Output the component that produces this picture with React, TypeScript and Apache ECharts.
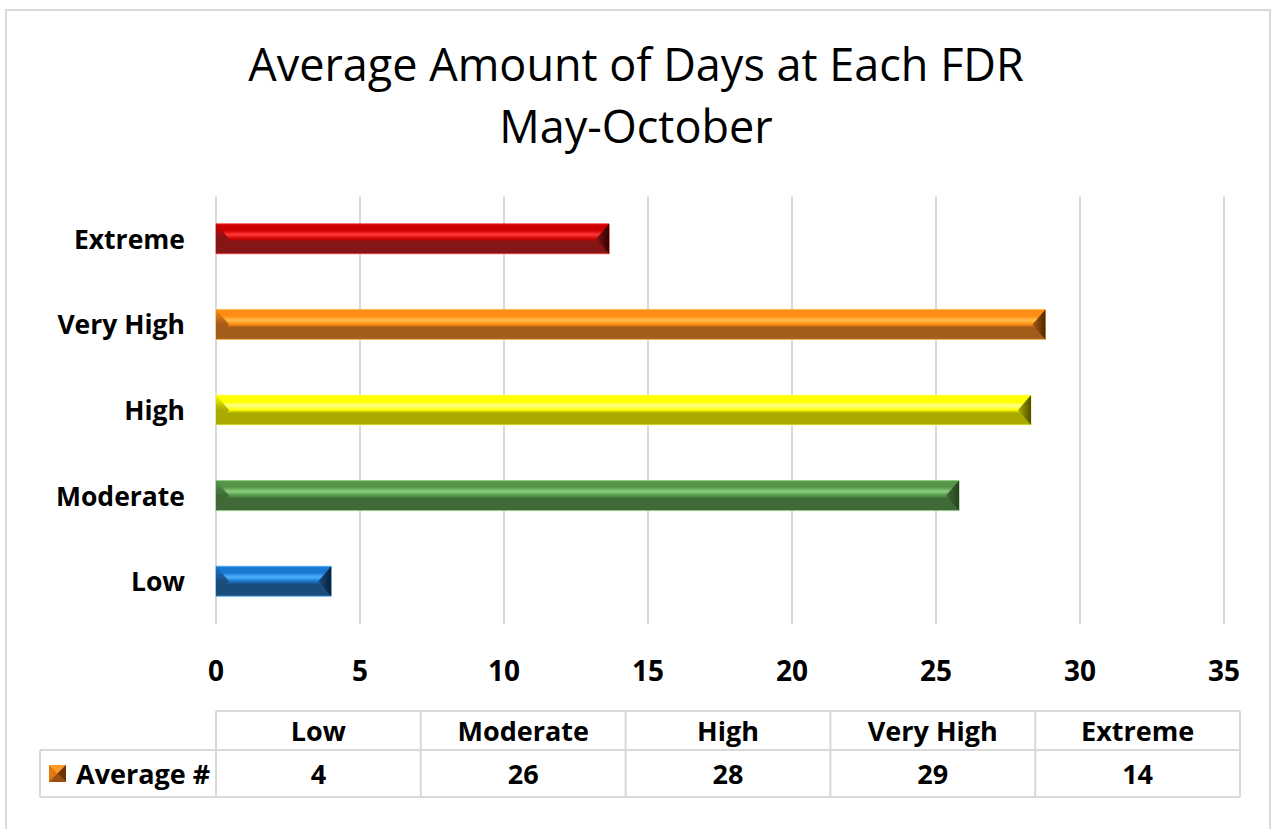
import React, { useEffect, useRef } from "react";
import * as echarts from "echarts";

const categories = ["Low", "Moderate", "High", "Very High", "Extreme"];
const averageDays = [4, 25.8, 28.3, 28.8, 13.65];
const seriesName = "Average #";
const titleLines = ["Average Amount of Days at Each FDR", "May-October"];
const axisMin = 0;
const axisMax = 35;
const axisInterval = 5;

const palette = [
  { base: "#1a78d0", light: "#4db2ff", dark: "#1b4d7c", end: "#06203a" },
  { base: "#54954a", light: "#8acd7b", dark: "#3f6936", end: "#27441f" },
  { base: "#ffff00", light: "#ffff8a", dark: "#a9a900", end: "#4e4e00" },
  { base: "#ff8c14", light: "#ffbd4a", dark: "#a45c1b", end: "#4e2600" },
  { base: "#cc0000", light: "#ff3838", dark: "#851616", end: "#330000" },
];

const FONT = "'Open Sans', sans-serif";

export default function App() {
  const ref = useRef<HTMLDivElement>(null);

  useEffect(() => {
    if (!ref.current) return;
    const chart = echarts.init(ref.current, undefined, { renderer: "svg" });

    const gridLeft = 216;
    const gridTop = 196;
    const gridRight = 48;
    const gridBottom = 205;

    // data table geometry
    const tLeft = 216;
    const tRight = 1240;
    const labelLeft = 40;
    const r0 = 711;
    const r1 = 750;
    const r2 = 797;
    const colW = (tRight - tLeft) / categories.length;
    const lineStyle = { stroke: "#d9d9d9", lineWidth: 2 };
    const tableFont = `bold 27px ${FONT}`;

    const tableEls: any[] = [];
    tableEls.push({ type: "line", shape: { x1: tLeft, y1: r0, x2: tRight, y2: r0 }, style: lineStyle });
    tableEls.push({ type: "line", shape: { x1: labelLeft, y1: r1, x2: tRight, y2: r1 }, style: lineStyle });
    tableEls.push({ type: "line", shape: { x1: labelLeft, y1: r2, x2: tRight, y2: r2 }, style: lineStyle });
    tableEls.push({ type: "line", shape: { x1: labelLeft, y1: r1, x2: labelLeft, y2: r2 }, style: lineStyle });
    for (let i = 0; i <= categories.length; i++) {
      const x = tLeft + i * colW;
      tableEls.push({ type: "line", shape: { x1: x, y1: r0, x2: x, y2: r2 }, style: lineStyle });
    }
    categories.forEach((c, i) => {
      const cx = tLeft + (i + 0.5) * colW;
      tableEls.push({
        type: "text",
        x: cx,
        y: (r0 + r1) / 2,
        style: { text: c, font: tableFont, fill: "#000", align: "center", verticalAlign: "middle" },
      });
      tableEls.push({
        type: "text",
        x: cx,
        y: (r1 + r2) / 2,
        style: {
          text: String(Math.round(averageDays[i])),
          font: tableFont,
          fill: "#000",
          align: "center",
          verticalAlign: "middle",
        },
      });
    });
    // legend key
    const kx = 49, ky = 765, ks = 17;
    tableEls.push({ type: "rect", shape: { x: kx, y: ky, width: ks, height: ks }, style: { fill: "#e07a10" } });
    tableEls.push({ type: "polygon", shape: { points: [[kx, ky], [kx + ks, ky], [kx + ks / 2, ky + ks / 2]] }, style: { fill: "#ff9a2a" } });
    tableEls.push({ type: "polygon", shape: { points: [[kx + ks, ky], [kx + ks, ky + ks], [kx + ks / 2, ky + ks / 2]] }, style: { fill: "#6a3406" } });
    tableEls.push({ type: "polygon", shape: { points: [[kx, ky + ks], [kx + ks, ky + ks], [kx + ks / 2, ky + ks / 2]] }, style: { fill: "#9a5010" } });
    tableEls.push({
      type: "text",
      x: 76,
      y: (r1 + r2) / 2,
      style: { text: seriesName, font: tableFont, fill: "#000", align: "left", verticalAlign: "middle" },
    });

    const option: any = {
      animation: false,
      backgroundColor: "#ffffff",
      title: {
        text: titleLines.join("\n"),
        left: "center",
        top: 27,
        textStyle: { fontFamily: FONT, fontWeight: "normal", fontSize: 45, color: "#000", lineHeight: 62 },
      },
      grid: { left: gridLeft, right: gridRight, top: gridTop, bottom: gridBottom, containLabel: false },
      xAxis: {
        type: "value",
        min: axisMin,
        max: axisMax,
        interval: axisInterval,
        axisLine: { show: false },
        axisTick: { show: false },
        splitLine: { show: true, lineStyle: { color: "#d9d9d9", width: 2 } },
        axisLabel: { fontFamily: FONT, fontWeight: "bold", fontSize: 28, color: "#000", margin: 32 },
      },
      yAxis: {
        type: "category",
        data: categories,
        axisLine: { show: false },
        axisTick: { show: false },
        splitLine: { show: false },
        axisLabel: { fontFamily: FONT, fontWeight: "bold", fontSize: 26.5, color: "#000", margin: 31 },
      },
      series: [
        {
          type: "custom",
          name: seriesName,
          data: averageDays.map((v, i) => [v, i]),
          encode: { x: 0, y: 1 },
          renderItem: (params: any, api: any) => {
            const v = api.value(0);
            const ci = api.value(1);
            const p0 = api.coord([0, ci]);
            const p1 = api.coord([v, ci]);
            const band = api.size([0, 1])[1];
            const h = band * 0.35;
            const x0 = p0[0];
            const x1 = p1[0];
            const y0 = p0[1] - h / 2;
            const y1 = y0 + h;
            const ym = y0 + h * 0.5;
            const b = 13;
            const c = palette[params.dataIndex];
            return {
              type: "group",
              children: [
                {
                  type: "rect",
                  shape: { x: x0, y: y0, width: x1 - x0, height: h },
                  style: {
                    fill: new echarts.graphic.LinearGradient(0, 0, 0, 1, [
                      { offset: 0, color: c.base },
                      { offset: 0.22, color: c.base },
                      { offset: 0.36, color: c.light },
                      { offset: 0.5, color: c.base },
                      { offset: 0.6, color: c.dark },
                      { offset: 1, color: c.dark },
                    ]),
                    stroke: c.light,
                    lineWidth: 0.8,
                  },
                },
                {
                  type: "polygon",
                  shape: { points: [[x0, y0], [x0 + b, ym], [x0, y1]] },
                  style: {
                    fill: new echarts.graphic.LinearGradient(0, 0, 0, 1, [
                      { offset: 0, color: c.base },
                      { offset: 0.5, color: c.dark },
                      { offset: 1, color: c.dark },
                    ]),
                  },
                },
                {
                  type: "polygon",
                  shape: { points: [[x1, y0], [x1 - b, ym], [x1, y1]] },
                  style: {
                    fill: new echarts.graphic.LinearGradient(0, 0, 1, 0, [
                      { offset: 0, color: c.dark },
                      { offset: 1, color: c.end },
                    ]),
                  },
                },
              ],
            };
          },
        },
      ],
      graphic: [
        {
          type: "rect",
          shape: { x: 6, y: 10, width: 1264, height: 830 },
          style: { fill: "none", stroke: "#d9d9d9", lineWidth: 2 },
          silent: true,
          z: -1,
        },
        ...tableEls,
      ],
    };

    chart.setOption(option);
    return () => chart.dispose();
  }, []);

  return (
    <div
      ref={ref}
      style={{ position: "fixed", left: 0, top: 0, width: 1272, height: 829, background: "#fff" }}
    />
  );
}
